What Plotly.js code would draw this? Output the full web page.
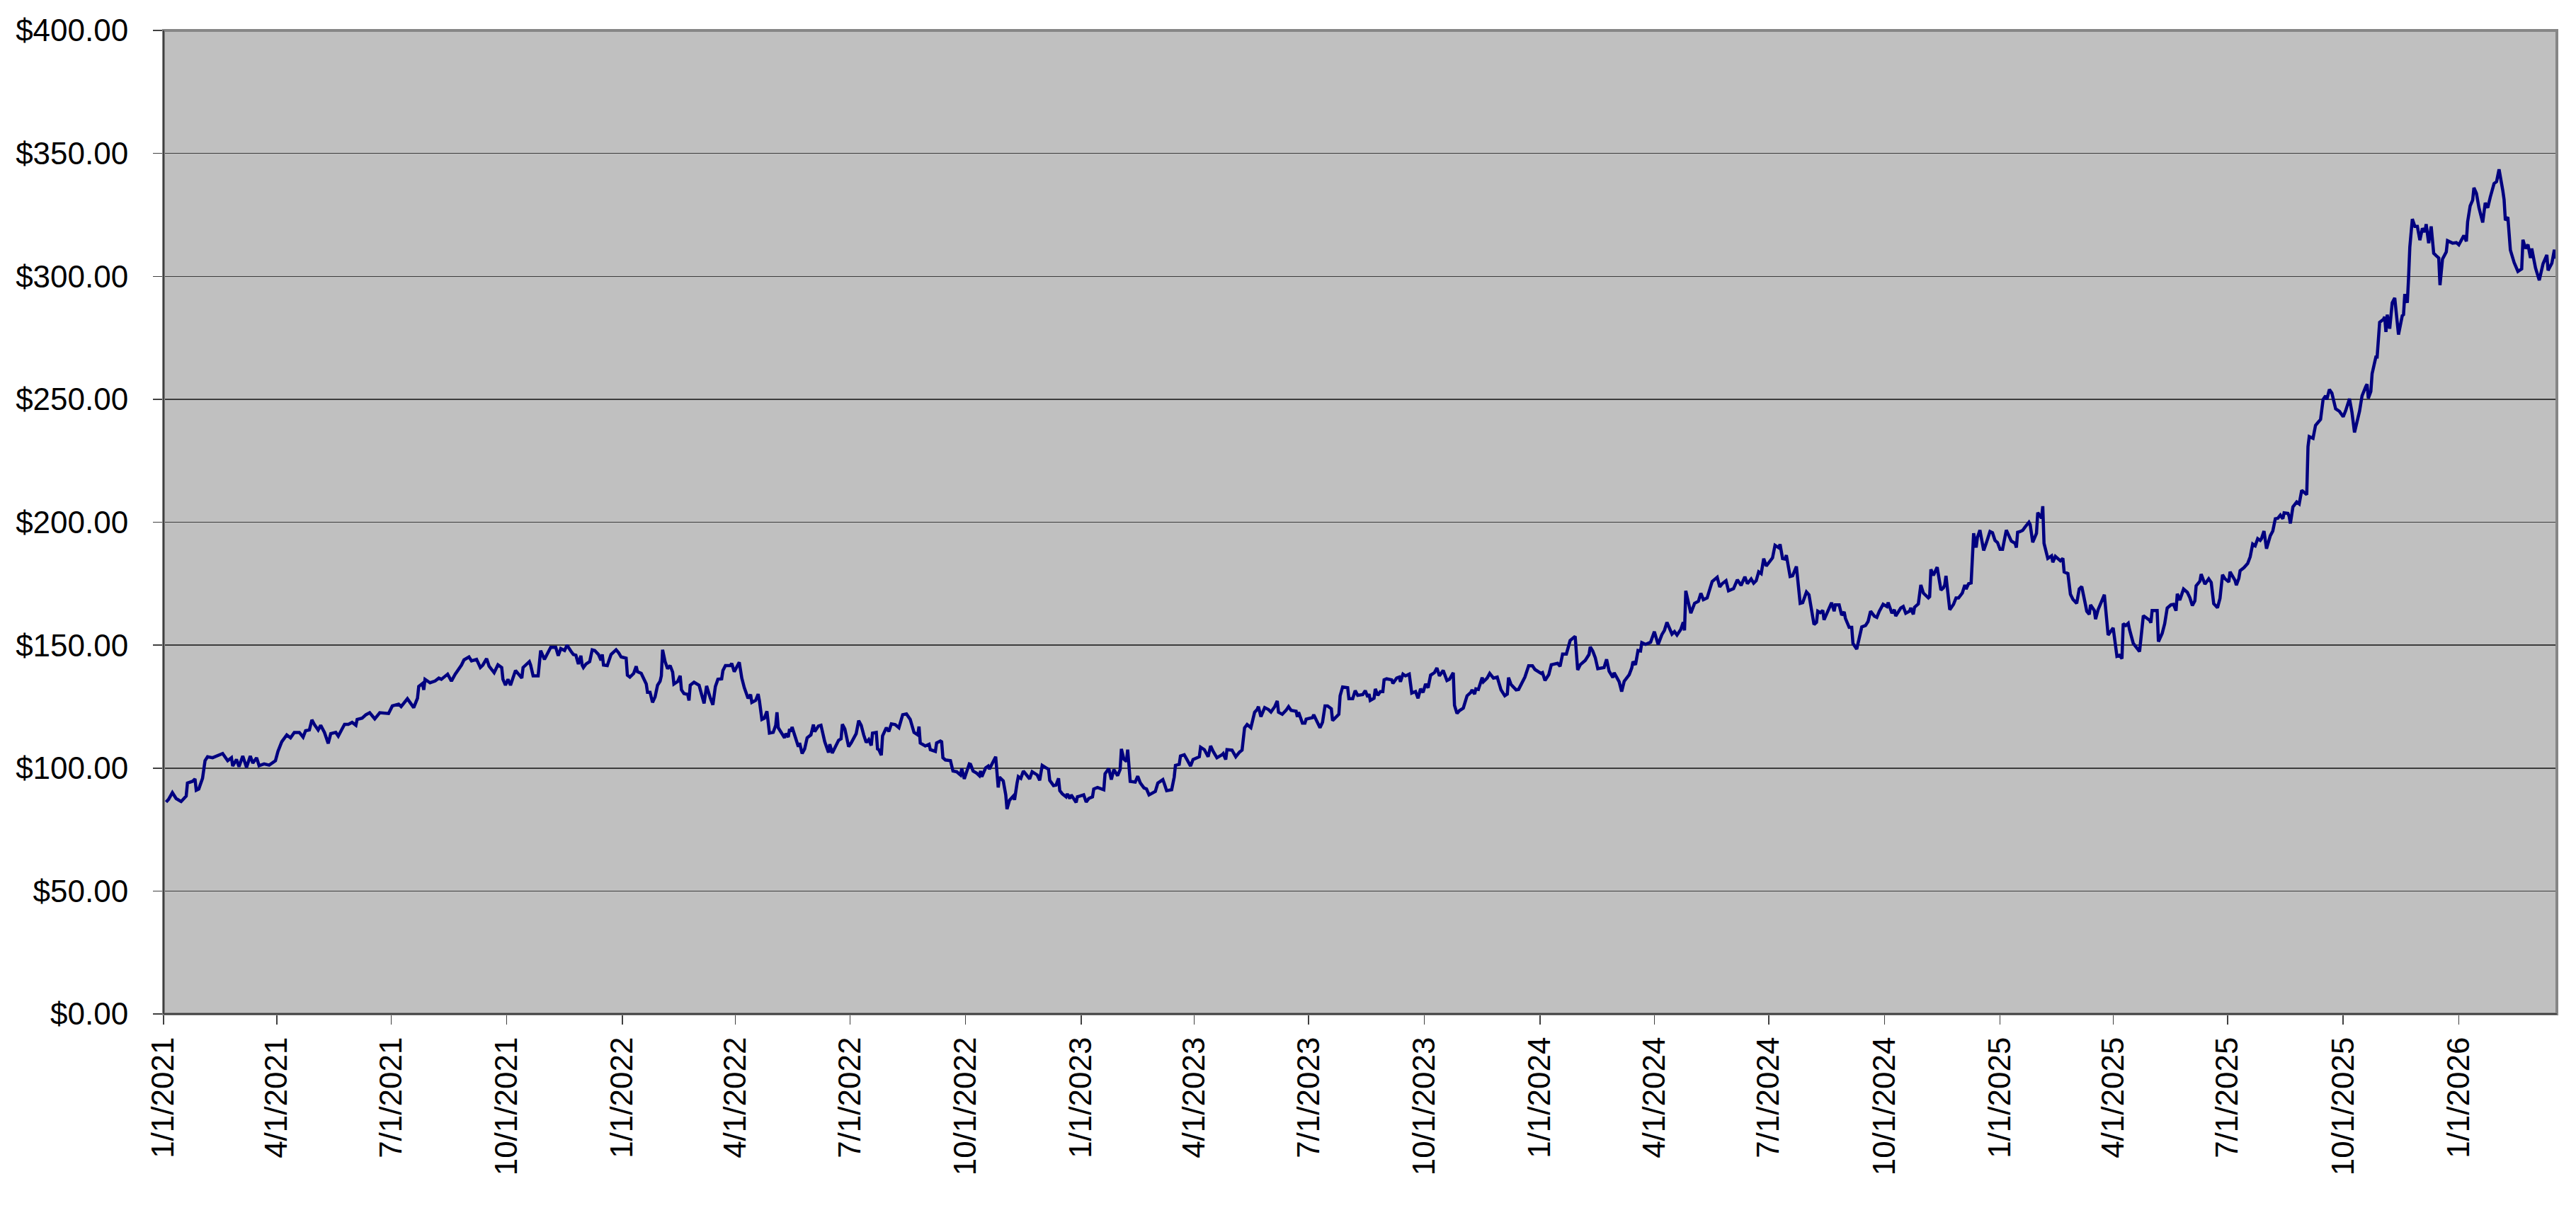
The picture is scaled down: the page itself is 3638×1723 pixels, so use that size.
<!DOCTYPE html>
<html>
<head>
<meta charset="utf-8">
<script src="https://cdn.plot.ly/plotly-3.0.1.min.js"></script>
<style>
  html, body { margin: 0; padding: 0; background: #ffffff; }
  #price-plot { width: 3638px; height: 1723px; }
</style>
</head>
<body>
<div id="price-plot"></div>
<script>
var startDate = '2021-01-01';

var days2021 = [2,4,7,10,14,18,19,23,25,26,28,31,33,35,39,42,47,51,54,55,58,60,63,66,69,71,74,76,80,84,89,91,94,98,101,104,108,111,113,116,118,120,123,125,128,131,133,137,139,142,144,147,150,153,154,158,161,164,166,168,172,179,182,187,189,194,199,202,203,206,207,208,212,216,219,221,226,229,232,237,239,243,245,249,252,254,257,259,263,266,269,270,272,274,276,280,285,286,291,292,294,298,300,303,308,312,314,316,319,321,324,326,328,330,332,333,334,336,339,341,343,346,348,349,350,353,356,358,360,362,364];
var prices2021 = [86.2,87.3,90.0,87.6,86.4,88.6,93.9,94.6,95.6,91.0,91.5,95.8,103.0,104.6,104.2,104.9,105.9,103.0,104.2,100.8,103.5,100.6,104.9,100.3,104.9,102.0,104.2,101.0,101.7,101.2,103.0,106.8,110.7,113.5,112.3,114.5,114.5,112.6,115.2,115.5,119.6,117.7,115.5,117.4,114.5,110.0,114.0,114.5,113.0,115.9,117.8,117.8,118.6,117.4,119.8,120.3,121.7,122.5,121.2,120.0,122.5,122.2,125.3,126.0,125.0,128.2,124.6,128.4,133.2,134.4,131.8,136.1,134.7,135.4,136.6,136.1,138.2,135.4,138.2,141.9,144.0,145.2,143.6,144.2,140.9,141.9,144.5,141.4,138.8,142.0,140.9,136.1,133.7,136.1,133.7,139.7,136.6,140.9,143.3,141.9,137.5,137.5,147.8,144.2,149.1,149.1,145.7,148.6,147.8,150.0,147.6,146.2,145.9,142.3,145.7,141.9,140.9,142.3,143.3,148.1,147.8,146.2,143.8,146.2,141.9,141.7,146.2,147.4,148.1,146.9,145.2];

var days2022 = [368,369,371,374,376,377,380,382,384,385,387,389,391,393,395,396,397,399,401,403,405,406,409,411,412,414,417,418,419,422,424,426,430,432,435,437,439,441,444,445,447,451,452,454,458,460,462,465,467,468,471,473,474,476,478,480,482,485,487,488,489,492,494,495,497,498,499,500,503,505,506,508,510,512,515,517,518,521,523,526,529,530,532,535,537,539,540,542,544,545,547,551,553,555,557,559,561,563,564,567,568,569,571,572,575,577,579,582,585,587,588,591,594,597,600,601,602,606,609,610,614,615,618,619,620,622,626,628,631,634,635,637,641,642,644,647,649,650,651,654,656,657,660,662,664,665,668,670,671,673,676,677,679,680,682,684,687,689,691,695,697,699,702,704,705,708,710,712,713,715,718,719,721,722,724,726,727];
var prices2022 = [144.7,137.8,137.0,138.5,141.4,139.2,138.5,136.6,134.2,130.8,130.8,126.7,128.9,133.7,135.3,137.5,148.1,143.3,140.4,141.7,139.0,134.2,135.2,137.5,131.8,130.3,129.9,127.5,133.7,134.9,134.2,133.7,126.3,133.4,128.4,125.7,133.2,136.1,136.3,139.7,141.7,141.7,142.6,139.2,143.0,136.6,132.7,128.4,129.9,126.7,127.5,130.1,127.5,119.8,120.3,123.1,114.2,114.5,117.4,122.7,116.4,114.0,112.3,114.0,112.6,115.9,114.9,116.7,111.6,108.7,110.2,105.9,107.8,112.3,113.5,117.7,114.8,117.1,117.4,110.7,106.3,109.7,106.1,109.7,111.3,111.9,117.8,115.9,111.6,108.7,110.2,114.0,119.3,117.4,113.5,110.4,111.6,109.2,114.2,114.5,107.8,107.5,105.2,113.1,116.4,114.9,118.0,117.7,116.4,119.8,121.7,122.0,119.8,114.5,113.5,116.9,110.2,109.0,109.7,107.5,106.8,110.2,111.0,110.7,104.2,103.3,103.0,98.8,98.5,97.2,99.8,95.6,101.7,101.5,98.8,97.9,96.9,98.8,96.5,100.1,100.8,99.6,102.5,104.6,92.1,96.3,94.8,89.1,83.3,86.9,88.6,87.1,93.9,96.5,95.8,98.8,96.9,95.6,98.5,97.2,95.0,101.1,100.1,99.6,95.0,92.9,93.1,95.8,90.8,89.5,88.3,89.5,87.6,89.1,87.6,86.0,88.3];

var days2023 = [730,732,734,736,739,740,743,746,748,749,752,754,756,759,761,762,764,766,767,769,773,775,777,780,782,784,789,791,795,796,798,802,804,805,808,809,812,815,817,819,822,824,825,828,831,833,835,838,842,843,845,846,850,853,856,858,860,862,865,868,870,871,873,876,879,881,884,886,887,890,893,895,897,901,902,903,906,908,909,914,915,918,920,922,924,926,929,930,933,935,936,938,942,943,946,948,950,954,956,958,959,960,963,964,966,968,970,971,973,977,978,981,983,984,986,988,991,993,996,998,1000,1002,1004,1006,1008,1011,1013,1015,1018,1021,1023,1026,1027,1029,1031,1034,1037,1040,1041,1043,1044,1046,1049,1050,1053,1055,1058,1061,1064,1067,1069,1070,1072,1076,1078,1083,1086,1089,1091];
var prices2023 = [88.6,89.1,86.2,87.6,88.3,91.5,92.1,91.5,91.2,97.7,99.8,95.3,99.4,96.9,99.4,107.8,103.6,102.7,107.5,94.6,94.3,96.7,94.0,91.9,91.5,89.1,90.5,93.9,95.3,93.9,90.8,91.2,96.3,101.1,101.5,104.9,105.4,102.7,100.8,103.5,104.2,104.6,108.5,107.5,104.6,109.0,106.8,104.2,105.4,105.9,103.5,107.5,107.3,104.6,106.5,107.3,116.4,117.7,116.4,122.7,123.8,125.0,120.9,124.6,123.8,122.8,125.0,127.3,122.7,121.9,123.5,125.0,123.5,123.1,120.8,122.7,118.3,118.3,119.9,120.5,121.7,118.6,116.4,118.6,125.3,125.3,124.1,119.3,120.8,121.9,129.4,133.0,132.7,128.2,128.2,131.5,129.6,129.9,131.5,128.9,130.1,127.5,128.4,132.2,129.6,131.1,131.1,135.9,136.3,135.9,134.4,136.6,137.0,135.1,138.2,137.5,138.2,130.5,131.1,128.4,132.2,130.8,134.2,132.7,137.8,138.8,140.7,137.5,139.7,135.6,136.1,138.8,125.5,122.2,123.4,124.4,129.4,130.8,131.8,130.1,132.2,132.0,136.8,135.1,136.6,138.5,136.6,137.0,131.8,129.4,130.1,136.8,134.0,131.8,132.0,137.0,141.6,141.6,140.1];

var days2024 = [1096,1097,1099,1102,1104,1109,1111,1113,1116,1119,1123,1125,1127,1131,1134,1135,1137,1139,1141,1146,1148,1150,1153,1154,1158,1160,1162,1166,1168,1169,1171,1173,1175,1176,1179,1183,1186,1189,1192,1194,1196,1200,1202,1204,1207,1209,1210,1211,1215,1218,1221,1223,1225,1228,1232,1236,1238,1240,1243,1245,1249,1252,1255,1258,1260,1263,1265,1267,1269,1271,1273,1275,1280,1282,1285,1286,1288,1290,1291,1294,1296,1299,1302,1304,1307,1309,1313,1315,1316,1318,1320,1321,1326,1327,1329,1330,1333,1335,1337,1338,1341,1343,1344,1347,1351,1354,1356,1358,1361,1363,1365,1368,1371,1372,1375,1377,1378,1382,1384,1386,1389,1390,1392,1393,1396,1398,1400,1404,1405,1406,1408,1411,1414,1416,1417,1418,1421,1424,1426,1428,1431,1433,1434,1436,1438,1440,1442,1443,1445,1448,1450,1453,1455,1457,1459];
var prices2024 = [138.5,138.8,135.6,138.0,142.0,142.6,141.4,146.4,146.4,151.9,153.6,139.9,142.0,143.8,146.2,149.3,147.6,144.9,140.4,140.9,144.2,139.4,136.8,138.8,135.1,131.1,135.3,138.0,140.7,143.3,142.0,147.8,147.6,151.0,150.3,151.2,155.5,150.3,154.3,156.0,159.3,154.5,155.5,154.1,156.4,159.3,156.0,172.1,163.0,167.0,167.8,171.1,168.5,169.2,175.9,177.6,173.7,175.0,176.2,172.1,173.0,176.6,174.3,177.8,175.0,176.9,175.2,176.2,179.8,179.1,185.2,182.2,185.5,190.6,189.6,191.0,185.2,185.0,186.6,177.9,178.2,182.0,167.0,167.3,171.6,170.5,158.4,159.3,163.8,163.2,164.1,160.3,166.6,167.3,163.8,166.4,166.4,162.2,163.5,160.9,157.2,157.2,150.7,148.4,157.4,158.0,159.6,163.8,161.8,161.3,163.8,166.6,165.7,167.3,163.0,164.4,161.8,165.1,165.7,163.0,163.8,165.1,162.5,165.4,166.8,174.5,171.2,169.2,169.7,180.8,178.4,181.7,172.4,173.3,174.5,178.2,164.4,166.6,169.2,169.2,171.2,174.5,172.8,175.0,175.3,195.5,189.7,193.8,196.8,188.5,191.4,196.2,195.7,192.6,191.7];

var days2025 = [1461,1463,1466,1470,1473,1474,1475,1477,1479,1481,1484,1485,1487,1490,1491,1494,1495,1496,1499,1502,1503,1505,1509,1511,1512,1515,1517,1519,1522,1524,1526,1529,1530,1532,1533,1536,1537,1539,1542,1544,1547,1551,1554,1556,1558,1559,1561,1563,1564,1567,1572,1575,1580,1581,1582,1586,1587,1590,1592,1594,1597,1599,1601,1602,1604,1605,1607,1610,1612,1614,1616,1617,1620,1621,1624,1627,1629,1631,1634,1636,1638,1640,1643,1644,1646,1648,1649,1651,1652,1655,1658,1660,1662,1664,1666,1668,1669,1671,1673,1676,1678,1680,1682,1684,1686,1687,1690,1691,1692,1694,1697,1699,1701,1703,1705,1706,1707,1710,1712,1714,1716,1718,1720,1721,1723,1725,1728,1731,1734,1736,1739,1741,1743,1747,1749,1752,1753,1754,1756,1757,1760,1761,1763,1766,1767,1768,1769,1771,1773,1775,1776,1778,1781,1782,1783,1785,1786,1787,1789,1791,1793,1795,1797,1799,1800,1802,1804,1806,1808,1810,1811,1813,1816,1817,1821,1824];
var prices2025 = [189.0,189.0,196.8,192.3,191.4,189.7,195.9,196.2,196.7,198.1,200.0,199.0,191.8,195.5,203.9,201.7,206.5,191.4,185.3,186.3,183.7,186.1,184.3,185.3,179.8,179.1,170.7,168.6,167.0,172.8,173.8,166.4,163.8,162.5,166.4,164.1,160.6,164.4,168.0,170.5,154.1,157.0,145.5,145.9,144.5,158.7,158.0,158.9,156.4,150.7,147.4,162.0,160.1,159.1,164.1,164.1,151.4,154.8,158.7,165.1,166.4,166.6,164.0,170.9,168.3,169.8,172.8,171.5,169.3,166.1,168.0,174.1,176.0,178.9,174.8,177.0,175.5,166.9,165.2,169.0,178.6,177.0,175.7,179.8,177.9,176.3,174.4,177.2,180.3,181.5,183.2,185.9,191.1,190.4,193.3,192.6,193.3,196.4,189.2,194.5,196.4,201.4,201.6,202.9,201.4,203.8,203.6,202.4,199.5,206.2,208.2,207.4,213.0,212.2,211.2,230.7,234.8,234.1,239.4,240.6,241.8,249.9,251.4,249.9,254.0,252.5,246.1,245.1,242.9,245.4,250.2,244.6,236.5,245.1,251.4,255.2,256.1,250.4,253.2,260.4,267.2,267.2,281.3,282.5,283.5,277.4,284.4,278.7,289.2,291.2,285.9,276.3,284.0,284.4,292.8,289.2,299.3,311.8,323.3,320.3,320.3,314.7,319.5,318.0,321.2,313.5,320.3,309.4,308.4,307.5,296.4,307.0,309.9,314.5,313.5,313.7];

var days2026 = [1826,1828,1830,1832,1833,1835,1837,1838,1840,1842,1845,1847,1849,1851,1854,1856,1858,1861,1862,1863,1865,1867,1870,1873,1876,1877,1879,1881,1883,1884,1887,1890,1893,1896,1897,1900,1902,1903];
var prices2026 = [312.8,314.9,316.6,314.2,322.2,328.6,331.0,336.0,333.7,327.9,321.9,329.9,327.9,332.2,337.7,338.5,343.5,334.8,331.2,322.8,324.1,310.7,305.6,302.0,303.0,314.9,311.3,312.9,307.5,311.3,303.4,298.4,305.1,308.7,302.4,305.3,310.8,307.2];

var yTickValues = [0, 50, 100, 150, 200, 250, 300, 350, 400];
var axisEndDate = '2026-03-20';

function to_date_string( offset ){
    var t = Date.UTC(2021, 0, 1) + offset * 86400000;
    return new Date(t).toISOString().slice(0, 10);
}

function init_price_plot( ){
    var allDays = days2021.concat(days2022, days2023, days2024, days2025, days2026);
    var allPrices = prices2021.concat(prices2022, prices2023, prices2024, prices2025, prices2026);

    var trace1 = {
      x: allDays.map(to_date_string),
      y: allPrices,
      type: 'scatter',
      mode: 'lines',
      line: { color: '#000080', width: 4.5 },
      hoverinfo: 'skip',
      name: 'Price'
    };

    var tickFont = { family: 'Liberation Sans, Arial, sans-serif', size: 44, color: '#000000' };

    var layout = {
        showlegend: false,
        width: 3638,
        height: 1723,
        paper_bgcolor: '#ffffff',
        plot_bgcolor: '#c0c0c0',
        margin: { l: 231, r: 27, t: 43, b: 291 },
        xaxis: {
            type: 'date',
            range: [startDate, axisEndDate],
            tick0: startDate,
            dtick: 'M3',
            tickformat: '%-m/%-d/%Y',
            tickangle: -90,
            tickfont: tickFont,
            ticks: 'outside',
            ticklen: 14,
            tickwidth: 1.5,
            tickcolor: '#404040',
            showgrid: false,
            zeroline: false,
            showline: false
        },
        yaxis: {
            range: [0, 400],
            tickvals: yTickValues,
            tickformat: '$.2f',
            tickfont: tickFont,
            ticks: 'outside',
            ticklen: 14,
            tickwidth: 1.5,
            tickcolor: '#404040',
            ticklabelstandoff: 26,
            showgrid: true,
            gridcolor: '#3c3c3c',
            gridwidth: 1.5,
            zeroline: false,
            showline: false
        },
        shapes: [
            // plot area frame
            { type: 'rect', xref: 'paper', yref: 'paper', x0: 0, x1: 1, y0: 0, y1: 1,
              line: { color: '#868686', width: 4 }, layer: 'above' },
            // darker left and bottom axis lines
            { type: 'line', xref: 'paper', yref: 'paper', x0: 0, x1: 0, y0: 0, y1: 1,
              line: { color: '#404040', width: 2 }, layer: 'above' },
            { type: 'line', xref: 'paper', yref: 'paper', x0: 0, x1: 1, y0: 0, y1: 0,
              line: { color: '#404040', width: 2 }, layer: 'above' }
        ]
    };

    var additional_param = {
        displayModeBar: false,
        staticPlot: true
    };

    Plotly.newPlot('price-plot', [trace1], layout, additional_param);
}

init_price_plot();
</script>
</body>
</html>
